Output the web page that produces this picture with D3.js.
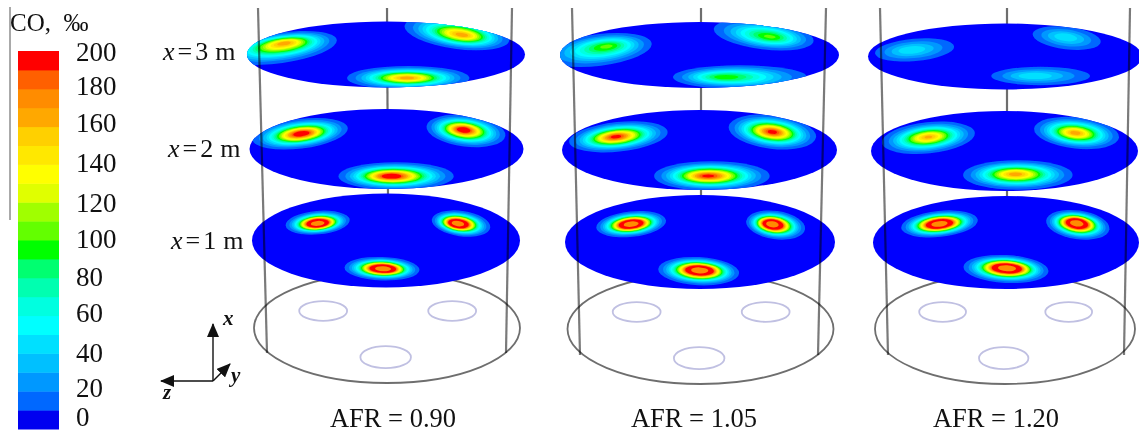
<!DOCTYPE html>
<html>
<head>
<meta charset="utf-8">
<script src="https://cdn.jsdelivr.net/npm/d3@7/dist/d3.min.js"></script>
<style>
html,body{margin:0;padding:0;background:#fff;overflow:hidden}
svg{display:block}
text{font-family:"Liberation Serif",serif;fill:#111}
</style>
</head>
<body>
<div id="chart"></div>
<script>
// ---------- data ----------
const bandColors = ["#0000f0","#0068ff","#0098ff","#00c0ff","#00e0ff","#00ffff","#00ffe0","#00ffb0","#00ff70","#00ff00",
                    "#64ff00","#a0ff00","#e0ff00","#ffff00","#ffe800","#ffd000","#ffa800","#ff8c00","#ff6000","#ff0000"];
const colorTicks = [0,20,40,60,80,100,120,140,160,180,200];
const afrValues = [0.90,1.05,1.20];
const sliceHeights = [3,2,1];
// Plume: [slice x (m), outer z, outer y, core z, core y, radius z, radius y, tilt deg, peak CO]
// z and y are percent of the slice radius, CO in per mille.
const plumesAFR090 = [
  [3,-76,-20,-73,-35,41,46,-8,170],[3,51,-65,55,-59,38,48,8,170],[3,16,71,15,71,44,36,0,170],
  [2,-63,-38,-62,-38,35,37,-7,215],[2,58,-45,56,-48,29,39,7,215],[2,7,68,3,68,42,35,0,215],
  [1,-51,-38,-51,-36,24,25,-5,320],[1,56,-36,53,-36,22,27,8,320],[1,-3,60,-2,60,28,25,2,320]
];
const plumesAFR105 = [
  [3,-72,-15,-66,-27,38,48,-7,105],[3,46,-61,51,-55,36,44,7,105],[3,29,67,17,67,48,36,0,100],
  [2,-59,-33,-61,-33,36,37,-6,200],[2,53,-45,53,-45,32,42,7,200],[2,9,65,6,65,42,37,0,200],
  [1,-51,-38,-51,-38,26,27,-6,320],[1,56,-36,53,-38,22,30,8,320],[1,-1,62,0,60,30,30,3,320]
];
const plumesAFR120 = [
  [3,-66,-20,-69,-20,29,34,-5,50],[3,45,-56,44,-59,25,34,7,50],[3,26,59,20,59,36,28,0,50],
  [2,-57,-33,-57,-35,35,39,-6,165],[2,54,-45,53,-45,32,39,6,170],[2,10,60,8,58,41,37,0,170],
  [1,-50,-40,-50,-40,29,28,-6,320],[1,54,-38,53,-42,24,31,8,320],[1,0,57,1,55,32,30,3,320]
];
const plumesByPanel = [plumesAFR090,plumesAFR105,plumesAFR120];
// Burner outlines on the base plane: [z, y, radius z, radius y], percent of base radius
const holes = [[-48,-31,18,18],[49,-31,18,18],[-1,53,19,20]];

// ---------- layout ----------
const W=1139,H=432;
const panels=[
 {label:393, base:{cx:387,cy:328,rx:133,ry:55}, lines:[[258,8,267,353],[512,8,506,353]], mid:[387,8,388,200],
  slices:{3:{cx:386,cy:54.5,rx:139,ry:33},2:{cx:386.5,cy:149,rx:137,ry:40},1:{cx:386,cy:240.5,rx:134,ry:47}}},
 {label:694, base:{cx:700.5,cy:329,rx:133,ry:55}, lines:[[572,8,580,355],[826,8,818,355]], mid:[701,8,701,200],
  slices:{3:{cx:699.5,cy:55,rx:139.5,ry:33},2:{cx:699.5,cy:150,rx:137.5,ry:40},1:{cx:700,cy:242,rx:135,ry:47}}},
 {label:996, base:{cx:1005,cy:329,rx:130,ry:55}, lines:[[880,8,888,355],[1130,8,1124,355]], mid:[1007,8,1007,200],
  slices:{3:{cx:1005,cy:56.5,rx:137,ry:33},2:{cx:1004.5,cy:151,rx:133.5,ry:40},1:{cx:1006,cy:242.5,rx:133,ry:46.5}}}
];
const legendBox={x:18,w:41,top:51,bottom:429};
const tickY=[417,388,353,313,277,239,203,163,123,86,52];
const sliceLabels=[{v:3,x:163,y:60},{v:2,x:168,y:157},{v:1,x:171,y:249}];

const svg=d3.select("#chart").append("svg").attr("width",W).attr("height",H);
const defs=svg.append("defs");
const blur=defs.append("filter").attr("id","soft").attr("filterUnits","userSpaceOnUse")
  .attr("x",0).attr("y",0).attr("width",W).attr("height",H);
blur.append("feGaussianBlur").attr("stdDeviation",0.7);
defs.append("marker").attr("id","head").attr("viewBox","0 0 14 12").attr("refX",13).attr("refY",6)
  .attr("markerWidth",14).attr("markerHeight",12).attr("markerUnits","userSpaceOnUse").attr("orient","auto")
  .append("path").attr("d","M0,0L14,6L0,12Z").attr("fill","#111");

// ---------- legend ----------
svg.append("line").attr("x1",10).attr("x2",10).attr("y1",7).attr("y2",220).attr("stroke","#555").attr("stroke-width",1);
svg.append("text").attr("x",10).attr("y",31).attr("font-size",25).text("CO,\u00A0 \u2030");
const bandScale=d3.scaleLinear().domain([0,200]).range([legendBox.bottom,legendBox.top]);
const bandStep=200/bandColors.length;
svg.append("g").attr("filter","url(#soft)").selectAll("rect").data(bandColors).join("rect")
  .attr("x",legendBox.x).attr("width",legendBox.w)
  .attr("y",(c,i)=>bandScale((i+1)*bandStep))
  .attr("height",(c,i)=>bandScale(i*bandStep)-bandScale((i+1)*bandStep)+0.5)
  .attr("fill",c=>c);
const tickScale=d3.scaleLinear().domain(colorTicks).range(tickY);
const legendAxis=svg.append("g").attr("transform","translate(70,0)")
  .call(d3.axisRight(tickScale).tickValues(colorTicks).tickSize(0).tickPadding(6));
legendAxis.select(".domain").remove();
legendAxis.selectAll("text").attr("font-size",27).attr("font-family",'"Liberation Serif",serif').attr("fill","#111");

// ---------- slice labels ----------
sliceLabels.forEach(s=>{
  const t=svg.append("text").attr("x",s.x).attr("y",s.y).attr("font-size",26);
  t.append("tspan").attr("font-style","italic").text("x");
  t.append("tspan").attr("dx",3).text("=");
  t.append("tspan").attr("dx",3).text(s.v);
  t.append("tspan").attr("dx",7).text("m");
});

// ---------- coordinate triad ----------
const triad=svg.append("g").attr("stroke","#111").attr("stroke-width",1.4);
[[213,381,213,324],[213,381,161,381],[213,381,230,364]].forEach(a=>{
  triad.append("line").attr("x1",a[0]).attr("y1",a[1]).attr("x2",a[2]).attr("y2",a[3]).attr("marker-end","url(#head)");
});
[["x",223,325],["y",231,382],["z",163,399]].forEach(a=>{
  svg.append("text").attr("x",a[1]).attr("y",a[2]).attr("font-size",21).attr("font-style","italic").attr("font-weight","bold").text(a[0]);
});

// ---------- panels ----------
const fmtAFR=d3.format(".2f");
const levels=d3.range(1,bandColors.length).map(i=>i*bandStep);
const bandColor=v=>bandColors[Math.min(bandColors.length-1,Math.floor(v/bandStep))];
const dipValue=170, dipStart=260;

panels.forEach((p,pi)=>{
  const g=svg.append("g");
  const bz=d3.scaleLinear().domain([-100,100]).range([p.base.cx-p.base.rx,p.base.cx+p.base.rx]);
  const by=d3.scaleLinear().domain([-100,100]).range([p.base.cy-p.base.ry,p.base.cy+p.base.ry]);
  const under=g.append("g").attr("filter","url(#soft)");
  under.append("line").attr("x1",p.mid[0]).attr("y1",p.mid[1]).attr("x2",p.mid[2]).attr("y2",p.mid[3])
    .attr("stroke","#6e6e6e").attr("stroke-width",2.2);
  under.append("ellipse").attr("cx",p.base.cx).attr("cy",p.base.cy).attr("rx",p.base.rx).attr("ry",p.base.ry)
    .attr("fill","none").attr("stroke","#6e6e6e").attr("stroke-width",1.8);
  under.selectAll("ellipse.hole").data(holes).join("ellipse").attr("class","hole")
    .attr("cx",d=>bz(d[0])).attr("cy",d=>by(d[1]))
    .attr("rx",d=>bz(d[2])-bz(0)).attr("ry",d=>by(d[3])-by(0))
    .attr("fill","none").attr("stroke","#c0c0e2").attr("stroke-width",1.8);

  sliceHeights.forEach(h=>{
    const s=p.slices[h];
    const zs=d3.scaleLinear().domain([-100,100]).range([s.cx-s.rx,s.cx+s.rx]);
    const ys=d3.scaleLinear().domain([-100,100]).range([s.cy-s.ry,s.cy+s.ry]);
    const id=`clip-${pi}-${h}`;
    defs.append("clipPath").attr("id",id).append("ellipse")
      .attr("cx",s.cx).attr("cy",s.cy).attr("rx",s.rx).attr("ry",s.ry);
    const sg=g.append("g").attr("filter","url(#soft)");
    sg.append("ellipse").attr("cx",s.cx).attr("cy",s.cy).attr("rx",s.rx).attr("ry",s.ry).attr("fill","#0000ff");
    const clipG=sg.append("g").attr("clip-path",`url(#${id})`);
    plumesByPanel[pi].filter(d=>d[0]===h).forEach(d=>{
      const [,oz,oy,cz,cy,rz,ry,tilt,peak]=d;
      const norm=Math.log(peak/levels[0]);
      const contour=(L,fill)=>{
        const t=Math.pow(Math.log(peak/L)/norm,0.55);
        const ex=zs(cz+(oz-cz)*t), ey=ys(cy+(oy-cy)*t);
        clipG.append("ellipse").attr("cx",ex).attr("cy",ey)
          .attr("rx",(zs(rz)-zs(0))*t).attr("ry",(ys(ry)-ys(0))*t)
          .attr("transform",`rotate(${tilt} ${ex} ${ey})`).attr("fill",fill);
      };
      levels.filter(L=>L<peak).forEach(L=>contour(L,bandColor(L)));
      if(peak>dipStart) contour(dipStart,bandColor(dipValue));
    });
  });

  g.append("g").attr("filter","url(#soft)").style("mix-blend-mode","multiply")
    .selectAll("line.wall").data(p.lines).join("line").attr("class","wall")
    .attr("x1",d=>d[0]).attr("y1",d=>d[1]).attr("x2",d=>d[2]).attr("y2",d=>d[3])
    .attr("stroke","#7a7a7a").attr("stroke-width",2.2);

  svg.append("text").attr("x",p.label).attr("y",427).attr("text-anchor","middle").attr("font-size",26.5)
    .text(`AFR = ${fmtAFR(afrValues[pi])}`);
});
</script>
</body>
</html>
